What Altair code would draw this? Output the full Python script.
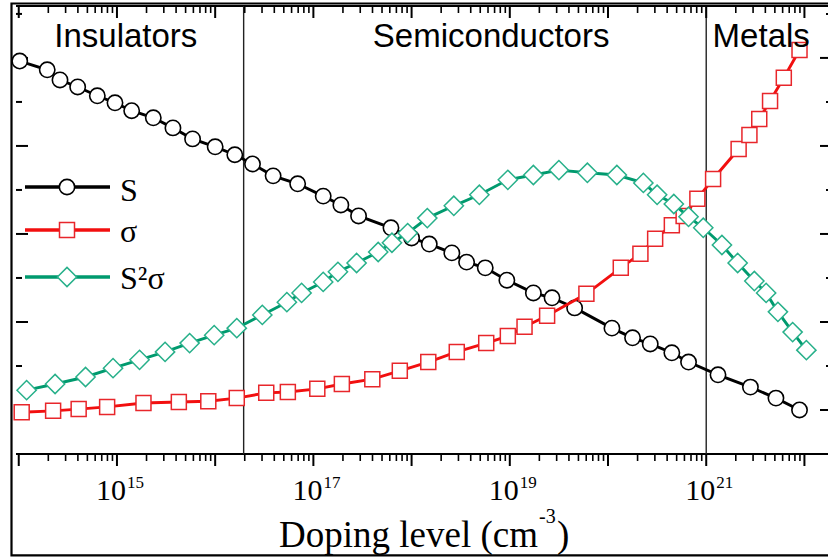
import altair as alt
import numpy as np
import pandas as pd

# ---------------- data (x = log10 of doping level in cm^-3, y = arbitrary units) ----------------
s_x = [14.01, 14.29, 14.42, 14.60, 14.80, 14.98, 15.15, 15.37, 15.57, 15.77, 16.00, 16.20, 16.38,
       16.59, 16.84, 17.10, 17.28, 17.46, 17.79, 18.00, 18.18, 18.41, 18.56, 18.75, 18.97, 19.24,
       19.43, 19.66, 20.04, 20.25, 20.43, 20.65, 20.82, 21.12, 21.45, 21.71, 21.95]
s_y = [8.93, 8.73, 8.50, 8.34, 8.14, 7.98, 7.80, 7.64, 7.41, 7.16, 6.98, 6.80, 6.59,
       6.32, 6.14, 5.86, 5.66, 5.41, 5.14, 4.91, 4.77, 4.57, 4.36, 4.23, 3.95, 3.66,
       3.55, 3.32, 2.86, 2.64, 2.50, 2.30, 2.09, 1.80, 1.52, 1.27, 1.00]

sig_x = [14.03, 14.35, 14.61, 14.90, 15.27, 15.63, 15.93, 16.22, 16.52, 16.74, 17.04, 17.29,
         17.60, 17.88, 18.17, 18.46, 18.76, 18.98, 19.15, 19.38, 19.78, 20.13, 20.33, 20.48,
         20.65, 20.77, 20.91, 21.07, 21.33, 21.44, 21.54, 21.65, 21.79, 21.95]
sig_y = [0.95, 0.98, 1.02, 1.07, 1.16, 1.18, 1.20, 1.27, 1.39, 1.41, 1.48, 1.59,
         1.70, 1.89, 2.09, 2.32, 2.52, 2.68, 2.89, 3.14, 3.64, 4.23, 4.55, 4.89,
         5.20, 5.41, 5.80, 6.25, 6.93, 7.25, 7.61, 8.02, 8.55, 9.18]

pf_x = [14.08, 14.37, 14.68, 14.96, 15.23, 15.49, 15.74, 15.99, 16.22, 16.48, 16.73, 16.88,
        17.10, 17.25, 17.44, 17.66, 17.80, 17.96, 18.16, 18.43, 18.69, 18.98, 19.24, 19.50,
        19.79, 20.09, 20.36, 20.50, 20.67, 20.82, 20.97, 21.16, 21.32, 21.49, 21.61, 21.73,
        21.88, 22.02]
pf_y = [1.45, 1.59, 1.75, 1.95, 2.14, 2.32, 2.52, 2.70, 2.86, 3.16, 3.45, 3.66,
        3.91, 4.14, 4.34, 4.59, 4.80, 5.02, 5.36, 5.64, 5.89, 6.23, 6.34, 6.45,
        6.39, 6.34, 6.16, 5.89, 5.68, 5.39, 5.14, 4.75, 4.34, 3.93, 3.66, 3.23,
        2.77, 2.36]

series_names = ["S", "σ", "S²σ"]
region_names = ["Insulators", "Semiconductors", "Metals"]
region_label_x = [15.09, 18.81, 21.56]
region_bounds = [16.29, 21.00]
label_decades = [15, 17, 19, 21]
label_bases = ["10", "10", "10", "10"]
label_exponents = ["15", "17", "19", "21"]
x_title_main = "Doping level (cm"
x_title_sup = "-3"
x_title_end = ")"

# ---------------- layout / style ----------------
W, H = 812, 448
XDOM = [13.972, 22.240]
YDOM = [0.0, 10.18]
SERIF = "Liberation Serif"
SANS = "Liberation Sans"
BLACK = "#000000"
RED_LINE, RED_MK = "#f20f0f", "#e8262b"
GRN_LINE, GRN_MK = "#009a6e", "#27b08a"

xs = alt.Scale(domain=XDOM, zero=False, nice=False)
ys = alt.Scale(domain=YDOM, zero=False, nice=False)
one = pd.DataFrame({"k": [0]})

layers = []

# outer figure frame
layers.append(alt.Chart(one).mark_rect(fillOpacity=0, stroke=BLACK, strokeWidth=2.2).encode(
    x=alt.value(-4.5), x2=alt.value(W + 30), y=alt.value(-2.5), y2=alt.value(549.3)))

# plot border: top and bottom lines
layers.append(alt.Chart(one).mark_rule(color=BLACK, strokeWidth=2.2).encode(
    x=alt.value(0), x2=alt.value(W), y=alt.value(0)))
layers.append(alt.Chart(one).mark_rule(color=BLACK, strokeWidth=2.2).encode(
    x=alt.value(0), x2=alt.value(W), y=alt.value(H)))

# region boundaries
bounds_df = pd.DataFrame({"b": region_bounds})
layers.append(alt.Chart(bounds_df).mark_rule(color="#222222", strokeWidth=1.4).encode(
    x=alt.X("b:Q", scale=xs, axis=None)))

# tick marks (log decades and minor ticks)
x_major = [float(n) for n in range(14, 23)]
x_minor = [n + float(np.log10(k)) for n in range(13, 23) for k in range(2, 10)
           if XDOM[0] <= n + np.log10(k) <= XDOM[1]]
y_major = [1.0, 3.0, 5.0, 7.0, 9.0]
y_minor = [2.0, 4.0, 6.0, 8.0, 10.0]

def xticks(vals, y0, y1, w):
    return alt.Chart(pd.DataFrame({"t": vals})).mark_rule(color=BLACK, strokeWidth=w).encode(
        x=alt.X("t:Q", scale=xs, axis=None), y=alt.value(y0), y2=alt.value(y1))

def yticks(vals, x0, x1, w, axis=None):
    return alt.Chart(pd.DataFrame({"t": vals})).mark_rule(color=BLACK, strokeWidth=w).encode(
        y=alt.Y("t:Q", scale=ys, axis=axis), x=alt.value(x0), x2=alt.value(x1))

layers += [
    xticks(x_major, 0, 12, 2.0), xticks(x_minor, 0, 7, 1.6),
    xticks(x_major, H, H + 12, 2.0), xticks(x_minor, H, H + 7, 1.6),
    yticks(y_major, 0, 12, 2.0, axis=alt.Axis(domain=True, domainColor=BLACK, domainWidth=2.2,
                                              ticks=False, labels=False, grid=False, title=None)),
    yticks(y_minor, 0, 6, 2.0),
    yticks(y_major, W + 4 - 12, W + 4, 2.0), yticks(y_minor, W + 4 - 6, W + 4, 2.0),
]

# series
def series(xv, yv, lcolor, mcolor, shape, size, mwidth):
    df = pd.DataFrame({"x": xv, "y": yv})
    base = alt.Chart(df).encode(x=alt.X("x:Q", scale=xs, axis=None),
                                y=alt.Y("y:Q", scale=ys, axis=None))
    return [base.mark_line(color=lcolor, strokeWidth=2.9),
            base.mark_point(shape=shape, size=size, filled=True, fill="white", stroke=mcolor,
                            strokeWidth=mwidth, opacity=1)]

styles = [
    (BLACK, BLACK, "circle", 235, 1.6),
    (RED_LINE, RED_MK, "square", 225, 1.5),
    (GRN_LINE, GRN_MK, "diamond", 370, 1.5),
]
layers += series(s_x, s_y, *styles[0])
layers += series(sig_x, sig_y, *styles[1])
layers += series(pf_x, pf_y, *styles[2])

# region labels
reg_df = pd.DataFrame({"name": region_names, "x": region_label_x})
layers.append(alt.Chart(reg_df).mark_text(font=SANS, fontSize=33, color=BLACK, align="center",
                                          baseline="alphabetic").encode(
    x=alt.X("x:Q", scale=xs, axis=None), y=alt.value(41), text="name:N"))

# tick labels: base "10" and superscript exponent
lab_df = pd.DataFrame({"d": label_decades, "b": label_bases, "e": label_exponents})
layers.append(alt.Chart(lab_df).mark_text(font=SERIF, fontSize=30, color=BLACK, align="right",
                                          baseline="alphabetic", dx=9).encode(
    x=alt.X("d:Q", scale=xs, axis=None), y=alt.value(H + 46), text="b:N"))
layers.append(alt.Chart(lab_df).mark_text(font=SERIF, fontSize=17, color=BLACK, align="left",
                                          baseline="alphabetic", dx=10).encode(
    x=alt.X("d:Q", scale=xs, axis=None), y=alt.value(H + 34), text="e:N"))

# axis title  "Doping level (cm^-3)"
def title_part(txt, x, y, size, align):
    return alt.Chart(pd.DataFrame({"t": [txt]})).mark_text(
        font=SERIF, fontSize=size, color=BLACK, align=align, baseline="alphabetic").encode(
        x=alt.value(x), y=alt.value(y), text="t:N")

layers += [
    title_part(x_title_main, 522, H + 93, 37, "right"),
    title_part(x_title_sup, 523, H + 69, 20, "left"),
    title_part(x_title_end, 541, H + 93, 37, "left"),
]

# legend
leg_y = [181, 224, 271]
leg_text_y = [195, 236, 283]
for name, (lc, mc, shp, sz, mw), ly, ty in zip(series_names, styles, leg_y, leg_text_y):
    layers.append(alt.Chart(one).mark_rule(color=lc, strokeWidth=3.4).encode(
        x=alt.value(9), x2=alt.value(94), y=alt.value(ly)))
    layers.append(alt.Chart(one).mark_point(shape=shp, size=sz, filled=True, fill="white",
                                            stroke=mc, strokeWidth=mw, opacity=1).encode(
        x=alt.value(51), y=alt.value(ly)))
    layers.append(alt.Chart(pd.DataFrame({"t": [name]})).mark_text(
        font=SERIF, fontSize=32, color=BLACK, align="left", baseline="alphabetic").encode(
        x=alt.value(104), y=alt.value(ty), text="t:N"))

chart = alt.layer(*layers).properties(
    width=W, height=H,
    autosize=alt.AutoSizeParams(type="none"),
    padding={"left": 16, "top": 6, "right": 0, "bottom": 106},
    background="white",
).configure_view(stroke=None)

chart.save("out.html", embed_options={"renderer": "svg", "actions": False})
